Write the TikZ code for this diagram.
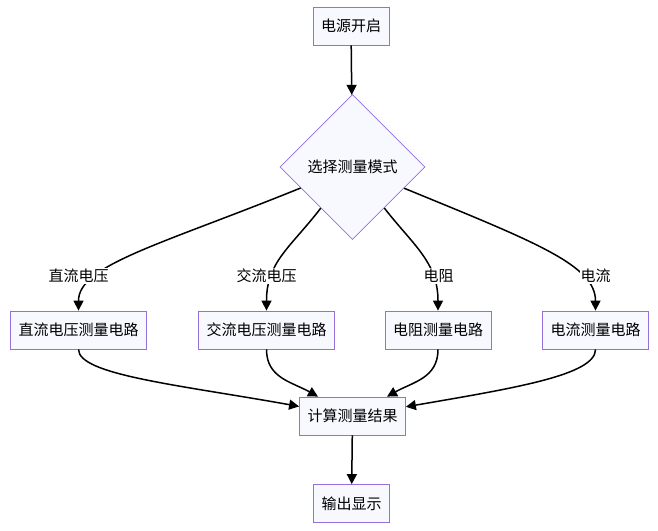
\documentclass[tikz,border=0pt]{standalone}
\usepackage{fontspec}
\setmainfont{Noto Sans CJK SC}
\usetikzlibrary{shapes.geometric,arrows.meta}

\definecolor{boxfill}{RGB}{248,248,255}
\definecolor{boxline}{RGB}{147,112,219}

\tikzset{
  box/.style={draw=boxline, fill=boxfill, line width=0.8pt, minimum height=38pt, inner xsep=8pt, font=\fontsize{15}{17}\selectfont},
  choice/.style={diamond, draw=boxline, fill=boxfill, line width=0.8pt, minimum width=145pt, minimum height=145pt, inner sep=0pt, font=\fontsize{15}{17}\selectfont},
  lbl/.style={fill=white, inner sep=1pt, font=\fontsize{15}{17}\selectfont},
  arr/.style={line width=1.5pt, -{Triangle[length=10pt,width=10pt]}}
}

\begin{document}
\begin{tikzpicture}[x=1pt,y=-1pt]
\useasboundingbox (0,0) rectangle (658,530);
% nodes
\node[box] (on) at (351,26) {电源开启};
\node[choice] (sel) at (352.5,167) {选择测量模式};
\node[box] (dcv) at (78.5,330) {直流电压测量电路};
\node[box] (acv) at (266.5,330) {交流电压测量电路};
\node[box] (res) at (438,330) {电阻测量电路};
\node[box] (cur) at (595.5,330) {电流测量电路};
\node[box] (calc) at (352.5,416) {计算测量结果};
\node[box] (show) at (351.5,503.5) {输出显示};

% branches from the choice
\draw[arr] (sel) .. controls (160,245) and (78.5,265) .. (dcv);
\draw[arr] (sel) .. controls (290,248) and (266.5,262) .. (acv);
\draw[arr] (sel) .. controls (413,245) and (438,262) .. (res);
\draw[arr] (sel) .. controls (535,242) and (595.5,265) .. (cur);
\node[lbl] (l1) at (78.5,276) {直流电压};
\node[lbl] (l2) at (266.5,276) {交流电压};
\node[lbl] (l3) at (438.5,276) {电阻};
\node[lbl] (l4) at (595.5,276) {电流};

% merge into the result
\draw[arr] (dcv) .. controls (78.5,375) and (180,385) .. (calc);
\draw[arr] (acv) .. controls (266.5,378) and (292,382) .. (calc);
\draw[arr] (res) .. controls (438,378) and (413,382) .. (calc);
\draw[arr] (cur) .. controls (595.5,375) and (515,388) .. (calc);

% straight ones
\draw[arr] (on) -- (sel);
\draw[arr] (calc) -- (show);
\end{tikzpicture}
\end{document}
